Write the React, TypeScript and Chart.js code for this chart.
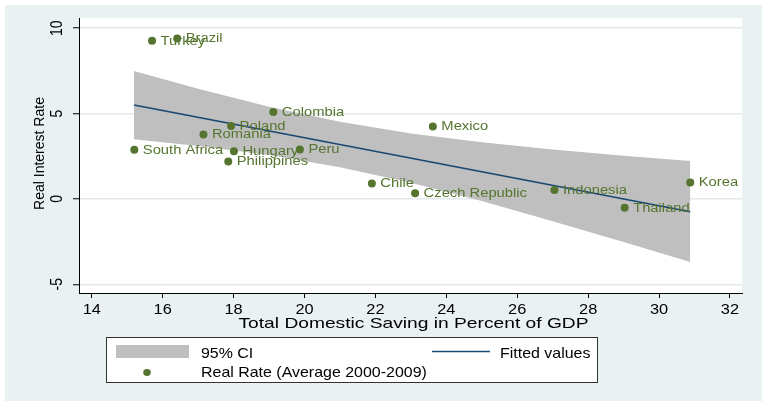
import React, { useEffect, useRef } from 'react';
import { Chart, registerables } from 'chart.js';

Chart.register(...registerables);

// ---- data ----
const countries = ['Turkey', 'Brazil', 'Colombia', 'Poland', 'Romania', 'South Africa', 'Hungary', 'Peru', 'Philippines', 'Chile', 'Mexico', 'Czech Republic', 'Indonesia', 'Thailand', 'Korea'];
const saving = [15.70, 16.41, 19.12, 17.93, 17.15, 15.20, 18.01, 19.87, 17.85, 21.90, 23.62, 23.12, 27.05, 29.03, 30.88];
const realRate = [9.26, 9.40, 5.09, 4.27, 3.78, 2.88, 2.79, 2.90, 2.20, 0.91, 4.25, 0.33, 0.52, -0.52, 0.96];

const fitX = [15.19, 30.88];
const fitY = [5.50, -0.75];

const ciX = [15.19, 17, 19, 21, 23, 25, 27, 29, 30.88];
const ciUpper = [7.50, 6.45, 5.40, 4.52, 3.84, 3.32, 2.90, 2.53, 2.22];
const ciLower = [3.50, 3.10, 2.57, 1.86, 0.95, -0.12, -1.30, -2.52, -3.70];

const xTicks = [14, 16, 18, 20, 22, 24, 26, 28, 30, 32];
const yTicks = [-5, 0, 5, 10];

const xTitle = 'Total Domestic Saving in Percent of GDP';
const yTitle = 'Real Interest Rate';
const ciLabel = '95% CI';
const fitLabel = 'Fitted values';
const pointLabel = 'Real Rate (Average 2000-2009)';

// ---- styles ----
const BG = '#eaf1f3';
const GRID = '#e2eaee';
const BAND = '#bfbfbf';
const NAVY = '#1a476f';
const GREEN = '#55752f';
const FONT = '"Liberation Sans", Arial, sans-serif';

function drawText(ctx: CanvasRenderingContext2D, text: string, x: number, y: number, size: number, color: string, align: CanvasTextAlign, baseline: CanvasTextBaseline, sx: number, rot = 0) {
  ctx.save();
  ctx.translate(x, y);
  ctx.scale(sx, 1);
  if (rot) ctx.rotate(rot);
  ctx.font = `${size}px ${FONT}`;
  ctx.fillStyle = color;
  ctx.textAlign = align;
  ctx.textBaseline = baseline;
  ctx.fillText(text, 0, 0);
  ctx.restore();
}

const bgPlugin = {
  id: 'bgPlugin',
  beforeDraw(chart: any) {
    const { ctx, chartArea } = chart;
    ctx.save();
    ctx.fillStyle = '#ffffff';
    ctx.fillRect(0, 0, chart.width, chart.height);
    ctx.fillStyle = BG;
    ctx.fillRect(5, 5, 757, 396);
    ctx.fillStyle = '#ffffff';
    ctx.fillRect(chartArea.left, chartArea.top, chartArea.right - chartArea.left, chartArea.bottom - chartArea.top);
    ctx.restore();
  },
};

const textPlugin = {
  id: 'textPlugin',
  afterDatasetsDraw(chart: any) {
    const { ctx } = chart;
    const meta = chart.getDatasetMeta(3);
    meta.data.forEach((el: any, i: number) => {
      drawText(ctx, countries[i], el.x + 8.5, el.y + 0.5, 12, GREEN, 'left', 'middle', 1.23);
    });
  },
  afterDraw(chart: any) {
    const { ctx, chartArea, scales } = chart;
    const xs = scales.x;
    const ys = scales.y;
    // x tick labels
    xTicks.forEach((v) => {
      drawText(ctx, String(v), xs.getPixelForValue(v), chartArea.bottom + 20.5, 14, '#000', 'center', 'alphabetic', 1.17);
    });
    // y tick labels (rotated)
    yTicks.forEach((v) => {
      drawText(ctx, String(v), chartArea.left - 17, ys.getPixelForValue(v), 14, '#000', 'center', 'alphabetic', 1.17, -Math.PI / 2);
    });
    // axis titles
    drawText(ctx, xTitle, (chartArea.left + chartArea.right) / 2 + 3, chartArea.bottom + 34.5, 15, '#000', 'center', 'alphabetic', 1.28);
    drawText(ctx, yTitle, 43.5, (chartArea.top + chartArea.bottom) / 2 - 2, 14, '#000', 'center', 'alphabetic', 1.1, -Math.PI / 2);

    // legend
    ctx.save();
    ctx.fillStyle = '#ffffff';
    ctx.fillRect(106, 337, 492, 46);
    ctx.strokeStyle = '#333333';
    ctx.lineWidth = 1;
    ctx.strokeRect(106.5, 337.5, 491, 45);
    ctx.fillStyle = BAND;
    ctx.fillRect(116, 345, 73, 13);
    ctx.strokeStyle = NAVY;
    ctx.lineWidth = 1.5;
    ctx.beginPath();
    ctx.moveTo(432, 351.5);
    ctx.lineTo(490, 351.5);
    ctx.stroke();
    ctx.fillStyle = GREEN;
    ctx.beginPath();
    ctx.ellipse(147, 372.5, 3.8, 3.4, 0, 0, Math.PI * 2);
    ctx.fill();
    ctx.restore();
    drawText(ctx, ciLabel, 201, 358, 14.5, '#000', 'left', 'alphabetic', 1.1);
    drawText(ctx, fitLabel, 500, 358, 14.5, '#000', 'left', 'alphabetic', 1.1);
    drawText(ctx, pointLabel, 201, 377, 14.5, '#000', 'left', 'alphabetic', 1.1);
  },
};

export default function App() {
  const canvasRef = useRef<HTMLCanvasElement | null>(null);

  useEffect(() => {
    const canvas = canvasRef.current;
    if (!canvas) return;
    const chart = new Chart(canvas, {
      type: 'scatter',
      data: {
        datasets: [
          {
            type: 'line',
            label: ciLabel + ' upper',
            data: ciX.map((x, i) => ({ x, y: ciUpper[i] })),
            borderWidth: 0,
            borderColor: 'rgba(0,0,0,0)',
            backgroundColor: BAND,
            pointRadius: 0,
            fill: 1,
            order: 3,
          } as any,
          {
            type: 'line',
            label: ciLabel + ' lower',
            data: ciX.map((x, i) => ({ x, y: ciLower[i] })),
            borderWidth: 0,
            borderColor: 'rgba(0,0,0,0)',
            pointRadius: 0,
            fill: false,
            order: 3,
          } as any,
          {
            type: 'line',
            label: fitLabel,
            data: fitX.map((x, i) => ({ x, y: fitY[i] })),
            borderColor: NAVY,
            borderWidth: 1.6,
            pointRadius: 0,
            fill: false,
            order: 2,
          } as any,
          {
            type: 'scatter',
            label: pointLabel,
            data: saving.map((x, i) => ({ x, y: realRate[i] })),
            backgroundColor: GREEN,
            borderColor: GREEN,
            borderWidth: 0,
            pointRadius: 4,
            order: 1,
          } as any,
        ],
      },
      options: {
        animation: false,
        responsive: false,
        maintainAspectRatio: false,
        devicePixelRatio: 1,
        layout: { padding: { left: 0, top: 18, right: 26, bottom: 0 } },
        plugins: {
          legend: { display: false },
          tooltip: { enabled: false },
          title: { display: false },
        },
        scales: {
          x: {
            type: 'linear',
            min: 13.64,
            max: 32.34,
            afterFit: (s: any) => { s.height = 407 - 293; },
            afterBuildTicks: (s: any) => { s.ticks = xTicks.map((v) => ({ value: v })); },
            ticks: { display: false },
            grid: { drawOnChartArea: false, drawTicks: true, tickLength: 5, tickColor: '#000', tickWidth: 1 },
            border: { display: true, color: '#000', width: 1 },
          },
          y: {
            type: 'linear',
            min: -5.51,
            max: 10.6,
            afterFit: (s: any) => { s.width = 79; },
            afterBuildTicks: (s: any) => { s.ticks = yTicks.map((v) => ({ value: v })); },
            ticks: { display: false },
            grid: { color: GRID, lineWidth: 1.5, drawTicks: true, tickLength: 6, tickColor: '#000', tickWidth: 1 },
            border: { display: true, color: '#000', width: 1 },
          },
        },
      } as any,
      plugins: [bgPlugin, textPlugin],
    });
    return () => chart.destroy();
  }, []);

  return (
    <div style={{ position: 'absolute', left: 0, top: 0, width: 768, height: 407 }}>
      <canvas ref={canvasRef} width={768} height={407} style={{ display: 'block', width: 768, height: 407 }} />
    </div>
  );
}
